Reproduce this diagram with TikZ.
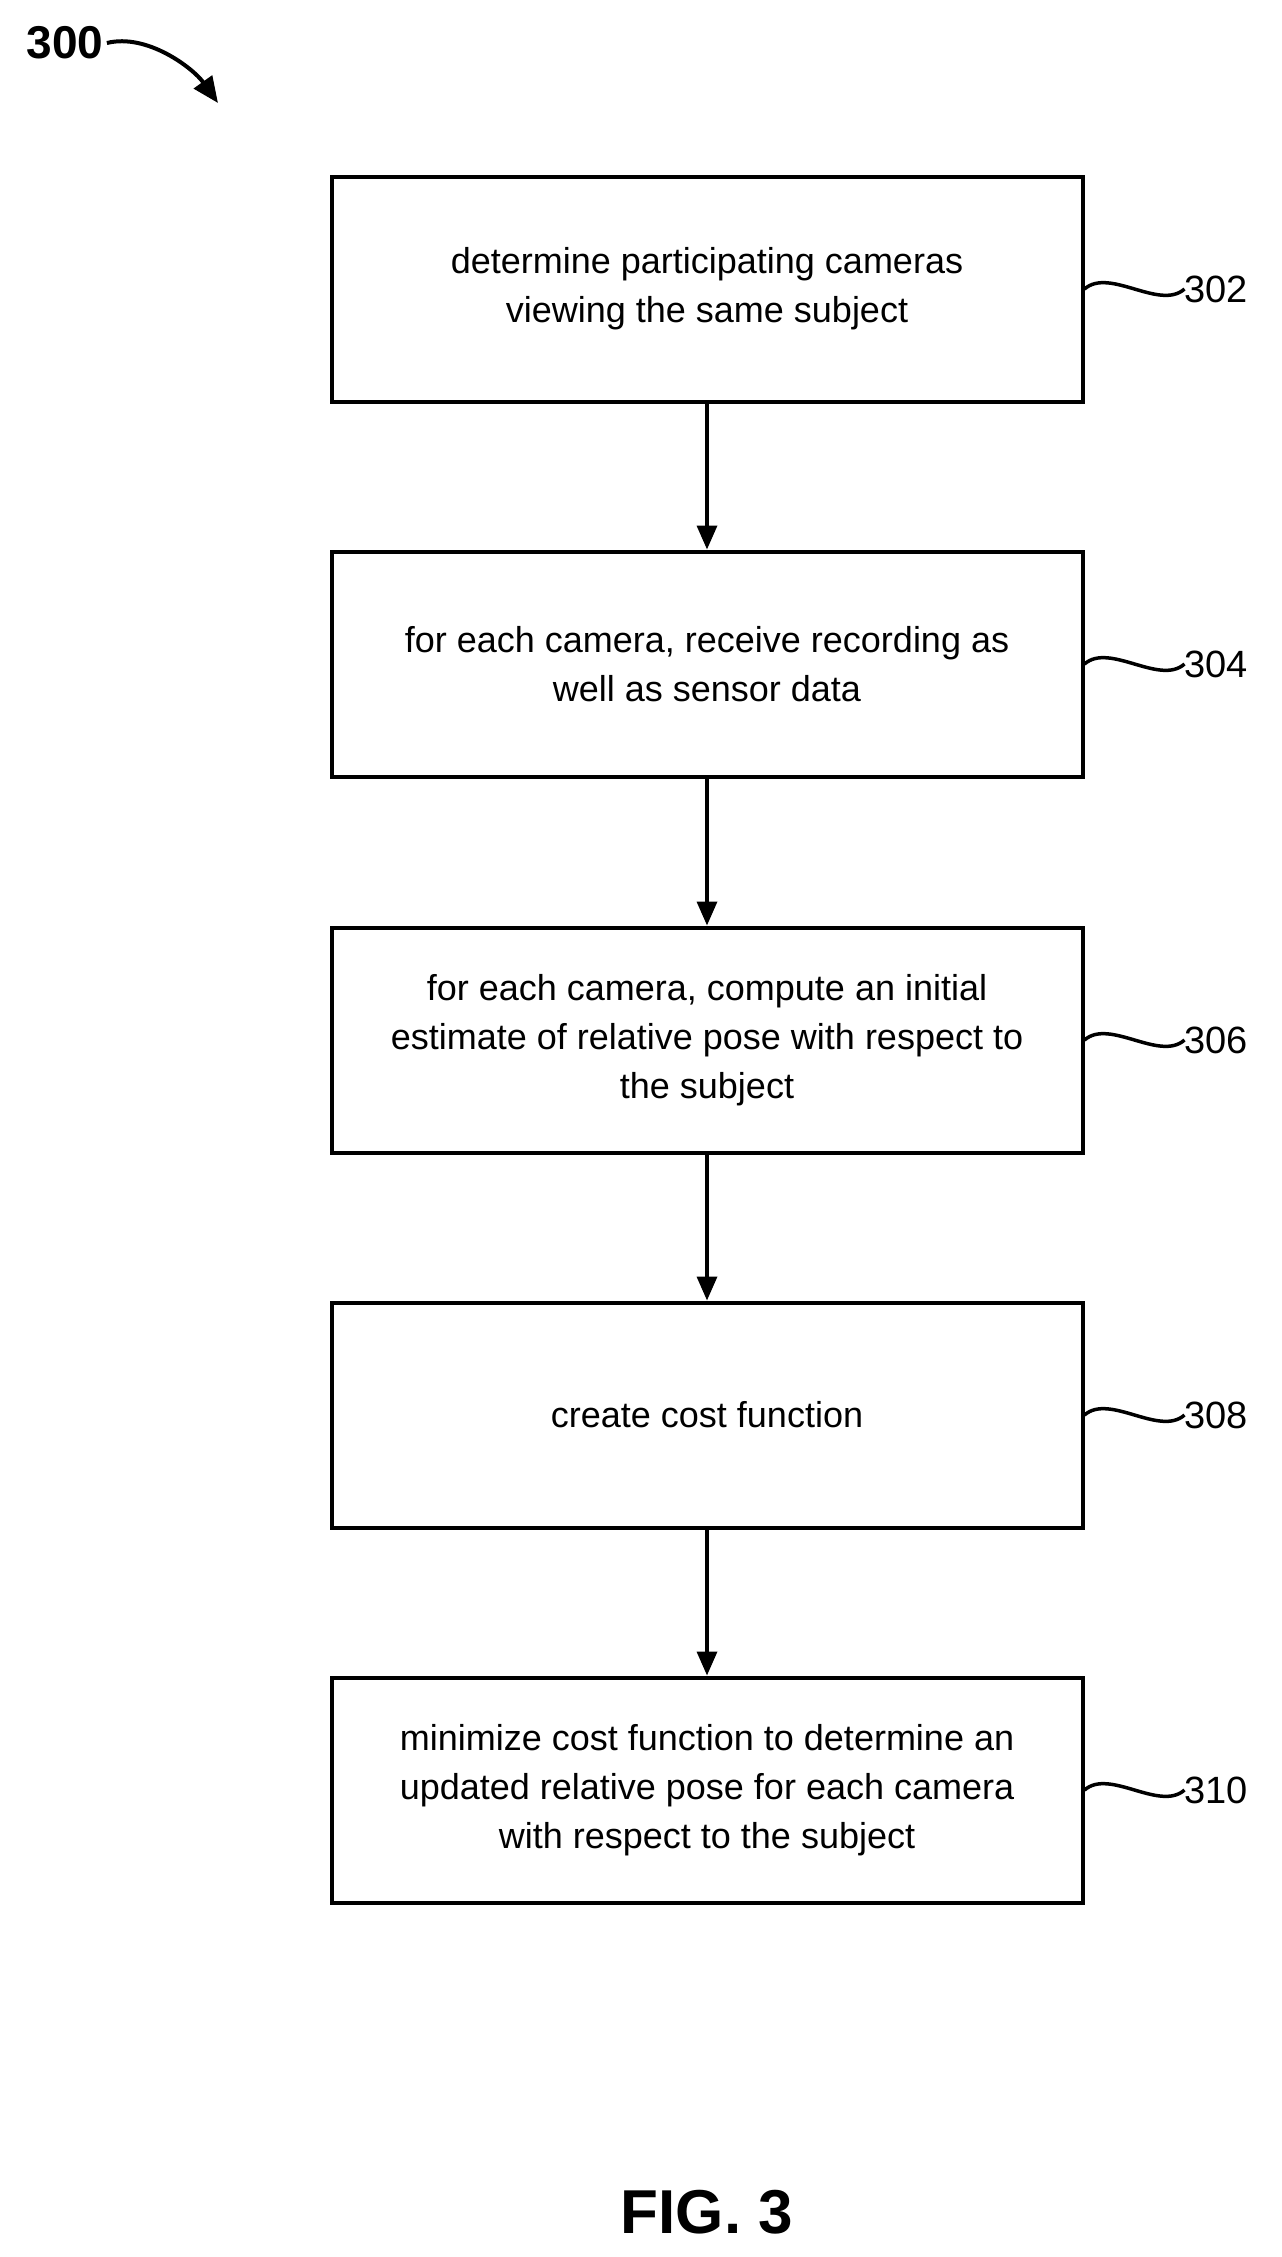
\documentclass[tikz,border=0pt]{standalone}
\usepackage{fontspec}
\setmainfont{Liberation Sans}
\usetikzlibrary{arrows.meta}
\begin{document}
\begin{tikzpicture}[x=1pt,y=-1pt,
 box/.style={draw,line width=4pt,minimum width=751pt,minimum height=225pt,align=center,font=\fontsize{36}{49}\selectfont,inner sep=0pt},
 lab/.style={font=\fontsize{38}{44}\selectfont,anchor=west,inner sep=0pt},
 arr/.style={line width=3.5pt,-{Triangle[length=24pt,width=20pt]}},
 sq/.style={line width=3.5pt}]
\useasboundingbox (0,0) rectangle (1282,2257);
\node[box] (b1) at (707,289) {determine participating cameras\\viewing the same subject};
\node[box] (b2) at (707,664) {for each camera, receive recording as\\well as sensor data};
\node[box] (b3) at (707,1040) {for each camera, compute an initial\\estimate of relative pose with respect to\\the subject};
\node[box] (b4) at (707,1415) {create cost function};
\node[box] (b5) at (707,1790) {minimize cost function to determine an\\updated relative pose for each camera\\with respect to the subject};
\foreach \a/\b in {b1/b2,b2/b3,b3/b4,b4/b5} \draw[arr] (\a.south) -- (\b.north);
\foreach \n/\t in {b1/302,b2/304,b3/306,b4/308,b5/310}{
 \node[lab] (l\t) at ([xshift=100pt]\n.east) {\t};
 \draw[sq] (\n.east) .. controls +(25,-22) and +(-25,22) .. (l\t.west);
}
\node[font=\fontsize{46}{50}\selectfont\bfseries] (t300) at (65,43) {300};
\coordinate (ae) at (218,103);
\draw[line width=4pt,-{Triangle[length=26pt,width=22pt]}] (t300.east) .. controls +(40,-10) and +(-25,-35) .. (ae);
\node[font=\fontsize{62}{66}\selectfont\bfseries] (fig) at (707,2212) {FIG. 3};
\end{tikzpicture}
\end{document}
